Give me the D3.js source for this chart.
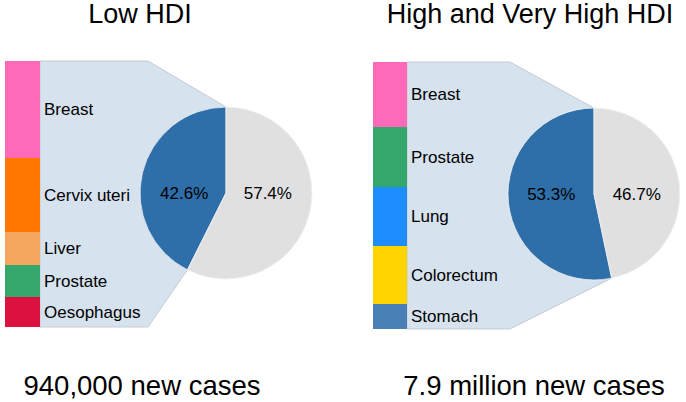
<!DOCTYPE html>
<html>
<head>
<meta charset="utf-8">
<script src="https://cdn.jsdelivr.net/npm/d3@7"></script>
<style>
  body { margin: 0; background: #fff; }
  text { font-family: "Liberation Sans", Arial, sans-serif; fill: #000; }
</style>
</head>
<body>
<div id="chart"></div>
<script>
var w = 686;
var h = 402;

// data
var titles = ["Low HDI", "High and Very High HDI"];
var totals = ["940,000 new cases", "7.9 million new cases"];
var topFivePct = [42.6, 53.3];
var lowSites = ["Breast", "Cervix uteri", "Liver", "Prostate", "Oesophagus"];
var lowShares = [97, 74, 33, 32, 30];
var highSites = ["Breast", "Prostate", "Lung", "Colorectum", "Stomach"];
var highShares = [65, 60, 59, 58, 25];

var siteColor = {
  "Breast": "#ff69b9",
  "Cervix uteri": "#ff7700",
  "Liver": "#f4a75c",
  "Prostate": "#35a66c",
  "Oesophagus": "#dc1140",
  "Lung": "#1e8eff",
  "Colorectum": "#ffd400",
  "Stomach": "#4a80b5"
};

// layout of the two panels
var panels = [
  { sites: lowSites, shares: lowShares, pct: topFivePct[0], title: titles[0], total: totals[0],
    barX: 5, barW: 35, top: 61, bottom: 327, polyX: 148, cx: 226, cy: 193, r: 86, titleX: 140, totalX: 142 },
  { sites: highSites, shares: highShares, pct: topFivePct[1], title: titles[1], total: totals[1],
    barX: 373, barW: 34, top: 62, bottom: 329, polyX: 510, cx: 594, cy: 194, r: 86, titleX: 530, totalX: 534 }
];

var svg = d3.select("#chart")
            .append("svg")
            .attr("width", w)
            .attr("height", h);

panels.forEach(function(p) {
  var g = svg.append("g");

  // pie: top five share drawn counterclockwise from 12 o'clock
  var pie = d3.pie().sort(null).startAngle(0).endAngle(-2 * Math.PI);
  var slices = pie([p.pct, 100 - p.pct]);
  var arc = d3.arc().innerRadius(0).outerRadius(p.r);
  var endA = slices[0].endAngle;
  var endX = p.cx + p.r * Math.sin(endA);
  var endY = p.cy - p.r * Math.cos(endA);

  // light blue callout joining the stack to the slice
  var poly = [
    [p.barX + p.barW, p.top], [p.polyX, p.top], [p.cx, p.cy - p.r],
    [endX, endY], [p.polyX, p.bottom], [p.barX + p.barW, p.bottom]
  ];
  g.append("path")
    .attr("d", d3.line()(poly) + "Z")
    .style("fill", "#d6e2ee")
    .style("stroke", "#c6ccd3")
    .style("stroke-width", 1);

  // stacked bar of the five sites
  var y = d3.scaleLinear()
            .domain([0, d3.sum(p.shares)])
            .range([p.top, p.bottom]);
  var cum = d3.cumsum(p.shares);

  g.selectAll("rect.site")
    .data(p.sites)
    .enter()
    .append("rect")
    .attr("class", "site")
    .attr("x", p.barX)
    .attr("width", p.barW)
    .attr("y", function(d, i) { return y(cum[i] - p.shares[i]); })
    .attr("height", function(d, i) { return y(cum[i]) - y(cum[i] - p.shares[i]); })
    .style("fill", function(d) { return siteColor[d]; });

  g.selectAll("text.site")
    .data(p.sites)
    .enter()
    .append("text")
    .attr("class", "site")
    .attr("x", p.barX + p.barW + 4)
    .attr("y", function(d, i) { return y(cum[i] - p.shares[i] / 2); })
    .attr("dy", "0.35em")
    .style("font-size", "17px")
    .text(function(d) { return d; });

  // the pie itself
  g.selectAll("path.slice")
    .data(slices)
    .enter()
    .append("path")
    .attr("class", "slice")
    .attr("transform", "translate(" + p.cx + "," + p.cy + ")")
    .attr("d", arc)
    .style("fill", function(d, i) { return i === 0 ? "#2f6fa9" : "#e0e0e0"; })
    .style("stroke", "#f2f2f2")
    .style("stroke-width", 0.8);

  g.selectAll("text.pct")
    .data(slices)
    .enter()
    .append("text")
    .attr("class", "pct")
    .attr("x", function(d) { return p.cx + arc.centroid(d)[0]; })
    .attr("y", p.cy)
    .attr("dy", "0.35em")
    .attr("text-anchor", "middle")
    .style("font-size", "17px")
    .text(function(d) { return d3.format(".1f")(d.data) + "%"; });

  // titles above and totals below
  g.append("text")
    .attr("x", p.titleX)
    .attr("y", 23)
    .attr("text-anchor", "middle")
    .style("font-size", "27px")
    .text(p.title);

  g.append("text")
    .attr("x", p.totalX)
    .attr("y", 395)
    .attr("text-anchor", "middle")
    .style("font-size", "27.5px")
    .text(p.total);
});
</script>
</body>
</html>
